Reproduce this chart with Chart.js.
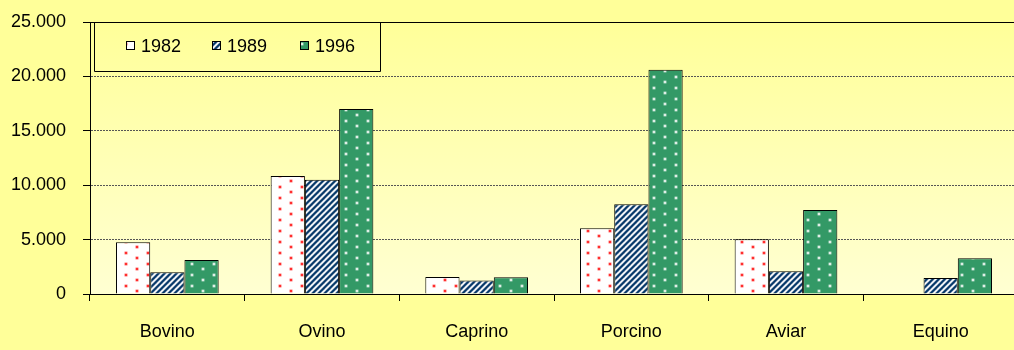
<!DOCTYPE html>
<html><head><meta charset="utf-8">
<script src="https://cdn.jsdelivr.net/npm/chart.js@4.4.1/dist/chart.umd.min.js"></script>
<style>
html,body{margin:0;padding:0;background:#FFFF99;overflow:hidden;width:1014px;height:350px}
#wrap{position:absolute;left:0;top:0;width:1020px;height:350px}
</style></head>
<body><div id="wrap"><canvas id="c" width="1020" height="350"></canvas></div>
<script>
const categories = ['Bovino','Ovino','Caprino','Porcino','Aviar','Equino'];
const seriesLabels = ['1982','1989','1996'];
const values1982 = [4750, 10850, 1570, 6050, 5030, null];
const values1989 = [2000, 10500, 1230, 8250, 2080, 1470];
const values1996 = [3130, 17000, 1530, 20600, 7730, 3290];
const yTickLabels = ['0','5.000','10.000','15.000','20.000','25.000'];

const canvas = document.getElementById('c');
const ctx = canvas.getContext('2d');

function makeTile(w, h, draw) {
  const c = document.createElement('canvas');
  c.width = w; c.height = h;
  draw(c.getContext('2d'), w, h);
  return ctx.createPattern(c, 'repeat');
}
function dot(g, x, y, halo, core) {
  g.fillStyle = halo; g.beginPath(); g.arc(x, y, 2.1, 0, Math.PI * 2); g.fill();
  g.fillStyle = core; g.beginPath(); g.arc(x, y, 1.1, 0, Math.PI * 2); g.fill();
}
function dotGrid(g, halo, core) {
  const pts = [[5,5],[5,16],[16,0],[16,11],[16,22]];
  pts.forEach(p => dot(g, p[0], p[1], halo, core));
}
const pat1982 = makeTile(22, 22, (g, w, h) => {
  g.fillStyle = '#ffffff'; g.fillRect(0, 0, w, h);
  dotGrid(g, 'rgba(255,110,110,0.55)', '#ff1010');
});
const pat1996 = makeTile(22, 22, (g, w, h) => {
  g.fillStyle = '#339966'; g.fillRect(0, 0, w, h);
  dotGrid(g, 'rgba(255,255,255,0.35)', 'rgba(255,255,255,0.95)');
});
const pat1989 = makeTile(6, 6, (g, w, h) => {
  g.fillStyle = '#ffffff'; g.fillRect(0, 0, w, h);
  g.lineCap = 'square';
  [[2.9, 'rgba(0,51,102,0.45)'], [1.7, '#003366']].forEach(([lw, col]) => {
    g.strokeStyle = col; g.lineWidth = lw;
    for (const c of [0, 6, 12]) {
      g.beginPath(); g.moveTo(c - 9, 9); g.lineTo(c + 3, -3); g.stroke();
    }
  });
});

const FONT = "'Liberation Sans', Arial, sans-serif";

const bgPlugin = {
  id: 'bg',
  beforeDraw(chart) {
    const a = chart.chartArea, g = chart.ctx;
    const grad = g.createLinearGradient(0, a.top, 0, a.bottom);
    grad.addColorStop(0, '#FFFF99');
    grad.addColorStop(1, '#FFFFD2');
    g.save(); g.fillStyle = grad;
    g.fillRect(a.left, a.top, a.right - a.left, a.bottom - a.top);
    g.restore();
  },
  afterDraw(chart) {
    const a = chart.chartArea, g = chart.ctx;
    g.save();
    g.strokeStyle = '#000'; g.lineWidth = 1;
    const yt = Math.round(a.top) + 0.5;
    g.beginPath(); g.moveTo(a.left, yt); g.lineTo(a.right, yt); g.stroke();
    // legend box
    const lx = 94, ly = Math.round(a.top), lw = 286, lh = 49;
    g.beginPath(); g.rect(lx + 0.5, ly + 0.5, lw, lh); g.stroke();
    const itemX = [126, 212, 300];
    chart.data.datasets.forEach((ds, i) => {
      const x = itemX[i];
      g.fillStyle = ds.backgroundColor;
      g.fillRect(x, ly + 19, 9, 9);
      g.strokeStyle = '#000';
      g.strokeRect(x + 0.5, ly + 19.5, 8, 8);
      g.fillStyle = '#000';
      g.font = '18px ' + FONT;
      g.textBaseline = 'middle'; g.textAlign = 'left';
      g.fillText(ds.label, x + 15, ly + 25);
    });
    g.restore();
  }
};

new Chart(canvas, {
  type: 'bar',
  data: {
    labels: categories,
    datasets: [
      { label: seriesLabels[0], data: values1982, backgroundColor: pat1982 },
      { label: seriesLabels[1], data: values1989, backgroundColor: pat1989 },
      { label: seriesLabels[2], data: values1996, backgroundColor: pat1996 }
    ].map(d => Object.assign(d, { borderColor: '#000', borderWidth: 1, borderSkipped: 'bottom',
        categoryPercentage: 0.664, barPercentage: 1.0 }))
  },
  options: {
    responsive: false,
    animation: false,
    devicePixelRatio: 1,
    layout: { padding: { top: 22, right: 2, left: 0, bottom: 0 } },
    plugins: { legend: { display: false }, tooltip: { enabled: false } },
    scales: {
      x: {
        afterFit(s) { s.height = 56; s.paddingLeft = 0; s.paddingRight = 0; },
        grid: { display: true, offset: true, drawOnChartArea: false, tickLength: 7, tickColor: '#000', tickWidth: 1 },
        border: { display: true, color: '#000', width: 1 },
        ticks: { color: '#000', font: { family: FONT, size: 18 }, padding: 20, maxRotation: 0 }
      },
      y: {
        min: 0, max: 25000,
        afterFit(s) { s.width = 90; s.paddingTop = 0; s.paddingBottom = 0; },
        afterBuildTicks(s) { s.ticks = yTickLabels.map((_, i) => ({ value: i * 5000 })); },
        grid: {
          color: c => (c.tick && c.tick.value === 25000) ? 'rgba(0,0,0,0)' : '#555',
          lineWidth: 1, tickLength: 7, tickColor: '#000', tickBorderDash: []
        },
        border: { display: true, color: '#000', width: 1, dash: [2, 1] },
        ticks: { color: '#000', font: { family: FONT, size: 18 }, padding: 17,
          callback: (v, i) => yTickLabels[i] }
      }
    }
  },
  plugins: [bgPlugin]
});
</script>
</body></html>
